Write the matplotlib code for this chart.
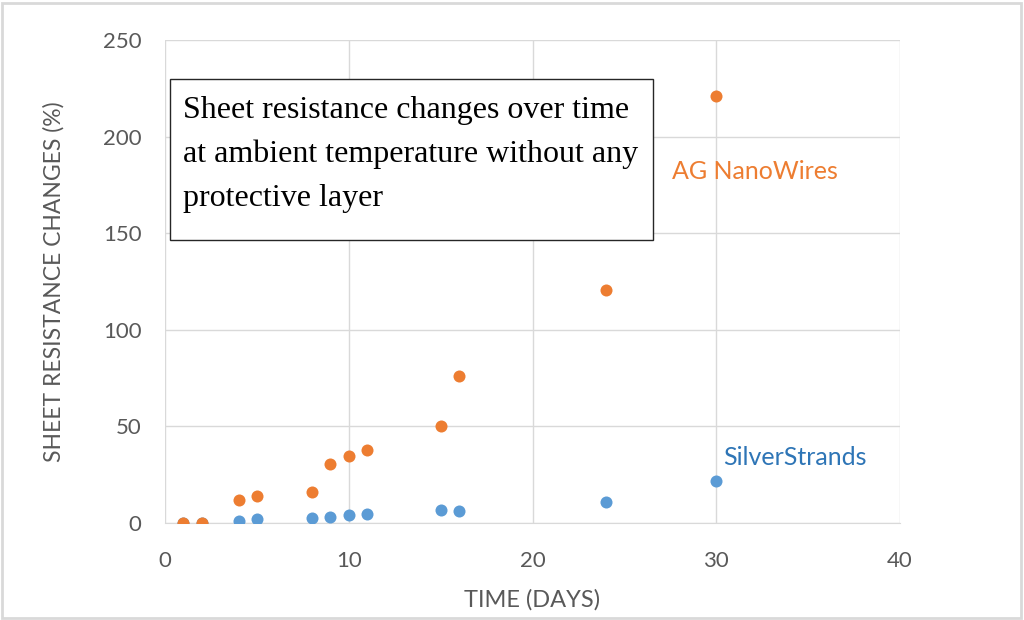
import matplotlib.pyplot as plt
from matplotlib.patches import Rectangle

# ── Data ──────────────────────────────────────────────────────────────────────
days_ag = [1, 2, 4, 5, 8, 9, 10, 11, 15, 16, 24, 30]
ag_nanowires = [0, 0, 12, 14, 16, 30.5, 34.5, 38, 50, 76, 120.5, 221]

days_ss = [1, 2, 4, 5, 8, 9, 10, 11, 15, 16, 24, 30]
silver_strands = [0, 0, 1, 2, 2.7, 3, 4, 4.5, 6.7, 6.2, 11, 21.5]

x_ticks = [0, 10, 20, 30, 40]
y_ticks = [0, 50, 100, 150, 200, 250]

ORANGE = "#ED7D31"
BLUE = "#5B9BD5"
GREY_TXT = "#595959"
GRID = "#D9D9D9"

plt.rcParams["font.family"] = ["Lato", "DejaVu Sans"]

fig = plt.figure(figsize=(10.24, 6.2), dpi=100)
ax = fig.add_axes([165 / 1024, 1 - 523 / 620, 735 / 1024, 483 / 620])

ax.scatter(days_ss, silver_strands, s=75, color=BLUE, zorder=3, linewidths=0)
ax.scatter(days_ag, ag_nanowires, s=75, color=ORANGE, zorder=4, linewidths=0)

ax.set_xlim(0, 40)
ax.set_ylim(0, 250)
ax.set_xticks(x_ticks)
ax.set_yticks(y_ticks)
ax.grid(True, color=GRID, linewidth=1)
ax.set_axisbelow(True)
for side in ["top", "right", "left"]:
    ax.spines[side].set_visible(False)
ax.spines["bottom"].set_color(GRID)
ax.tick_params(length=0, labelsize=16, colors=GREY_TXT)
ax.tick_params(axis="x", pad=20)
ax.tick_params(axis="y", pad=17)

ax.set_xlabel("TIME (DAYS)", fontsize=17, color=GREY_TXT)
ax.xaxis.set_label_coords(0.5, -0.137)
ax.set_ylabel("SHEET RESISTANCE CHANGES (%)", fontsize=16.5, color=GREY_TXT)
ax.yaxis.set_label_coords(-0.136, 0.5)

# series labels
ax.text(27.6, 182, "AG NanoWires", color=ORANGE, fontsize=18, ha="left", va="center")
ax.text(30.4, 34, "SilverStrands", color="#2E75B6", fontsize=18, ha="left", va="center")

# note box
fig.patches.append(Rectangle((170 / 1024, 1 - 240 / 620), 483 / 1024, 161 / 620,
                             transform=fig.transFigure, fill=True, facecolor="white",
                             edgecolor="#262626", linewidth=1, zorder=5))
fig.text(183 / 1024, 1 - 96 / 620,
         "Sheet resistance changes over time\nat ambient temperature without any\nprotective layer",
         family="Liberation Serif", fontsize=23, color="black",
         ha="left", va="top", linespacing=1.66, zorder=6)

# outer border
fig.patches.append(Rectangle((2 / 1024, 2 / 620), 1019 / 1024, 615 / 620,
                             transform=fig.transFigure, fill=False,
                             edgecolor="#D9D9D9", linewidth=2))

fig.savefig("out.png", dpi=100)
